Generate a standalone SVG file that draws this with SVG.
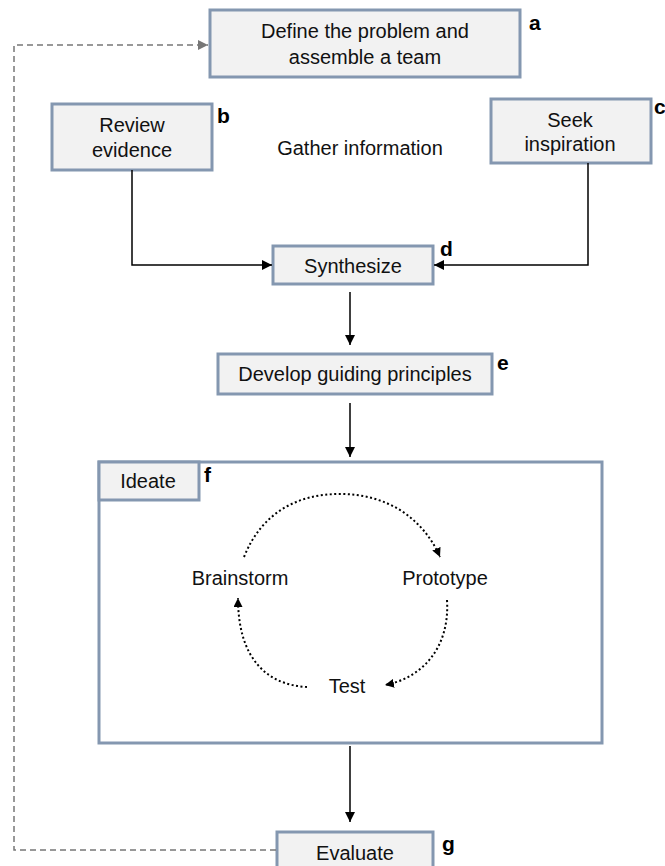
<svg xmlns="http://www.w3.org/2000/svg" width="665" height="866" viewBox="0 0 665 866">
<style>
.box{fill:#f2f2f2;stroke:#8497b0;stroke-width:3}
.frame{fill:none;stroke:#8497b0;stroke-width:3}
.t{font-family:"Liberation Sans",Arial,sans-serif;font-size:20px;fill:#111;text-anchor:middle}
.lbl{font-family:"Liberation Sans",Arial,sans-serif;font-size:21px;font-weight:bold;fill:#000}
.ln{fill:none;stroke:#000;stroke-width:1.5}
.dot{fill:none;stroke:#000;stroke-width:2;stroke-dasharray:2,2.5}
.dash{fill:none;stroke:#777;stroke-width:1.5;stroke-dasharray:6,4}
</style>
<defs>
<marker id="ah" viewBox="0 0 10 10" refX="10" refY="5" markerWidth="10" markerHeight="10" markerUnits="userSpaceOnUse" orient="auto"><path d="M0,0 L10,5 L0,10 Z" fill="#000"/></marker>
<marker id="ahs" viewBox="0 0 10 10" refX="10" refY="5" markerWidth="9" markerHeight="9" markerUnits="userSpaceOnUse" orient="auto"><path d="M0,0 L10,5 L0,10 Z" fill="#000"/></marker>
<marker id="ahg" viewBox="0 0 10 10" refX="10" refY="5" markerWidth="10" markerHeight="10" markerUnits="userSpaceOnUse" orient="auto"><path d="M0,0 L10,5 L0,10 Z" fill="#777"/></marker>
</defs>

<g id="node-a">
<rect class="box" x="210" y="10" width="310" height="67"/>
<text class="t" x="365" y="38">Define the problem and</text>
<text class="t" x="365" y="64">assemble a team</text>
<text class="lbl" x="529" y="30">a</text>
</g>

<g id="node-b">
<rect class="box" x="52" y="104" width="160" height="66"/>
<text class="t" x="132" y="132">Review</text>
<text class="t" x="132" y="157">evidence</text>
<text class="lbl" x="217" y="123">b</text>
</g>

<g id="gather">
<text class="t" x="360" y="155">Gather information</text>
</g>

<g id="node-c">
<rect class="box" x="491" y="99" width="160" height="64"/>
<text class="t" x="570" y="127">Seek</text>
<text class="t" x="570" y="151">inspiration</text>
<text class="lbl" x="654" y="114">c</text>
</g>

<g id="node-d">
<rect class="box" x="273" y="246" width="160" height="38"/>
<text class="t" x="353" y="273">Synthesize</text>
<text class="lbl" x="440" y="256">d</text>
</g>

<g id="node-e">
<rect class="box" x="218" y="354" width="274" height="40"/>
<text class="t" x="355" y="381">Develop guiding principles</text>
<text class="lbl" x="497" y="370">e</text>
</g>

<g id="node-f">
<rect class="frame" x="99" y="462" width="503" height="281"/>
<rect class="box" x="99" y="462" width="100" height="38"/>
<text class="t" x="148" y="488">Ideate</text>
<text class="lbl" x="204" y="482">f</text>
<text class="t" x="240" y="585">Brainstorm</text>
<text class="t" x="445" y="585">Prototype</text>
<text class="t" x="347" y="693">Test</text>
</g>

<g id="node-g">
<rect class="box" x="277" y="832" width="156" height="40"/>
<text class="t" x="355" y="860">Evaluate</text>
<text class="lbl" x="442" y="851">g</text>
</g>

<g id="connectors">
<path class="dash" d="M276,850 H14 V45 H208" marker-end="url(#ahg)"/>
<path class="ln" d="M132,170 V265 H272" marker-end="url(#ah)"/>
<path class="ln" d="M588,163 V265 H434" marker-end="url(#ah)"/>
<path class="ln" d="M350,292 V345" marker-end="url(#ah)"/>
<path class="ln" d="M350,403 V457" marker-end="url(#ah)"/>
<path class="ln" d="M350,746 V822" marker-end="url(#ah)"/>
<path class="dot" d="M244,557 C262,512 298,494 340,494 C385,494 422,516 440,557" marker-end="url(#ahs)"/>
<path class="dot" d="M447,600 C450,648 422,678 385,685" marker-end="url(#ahs)"/>
<path class="dot" d="M307,687 C268,685 238,660 238,598" marker-end="url(#ahs)"/>
</g>
</svg>
